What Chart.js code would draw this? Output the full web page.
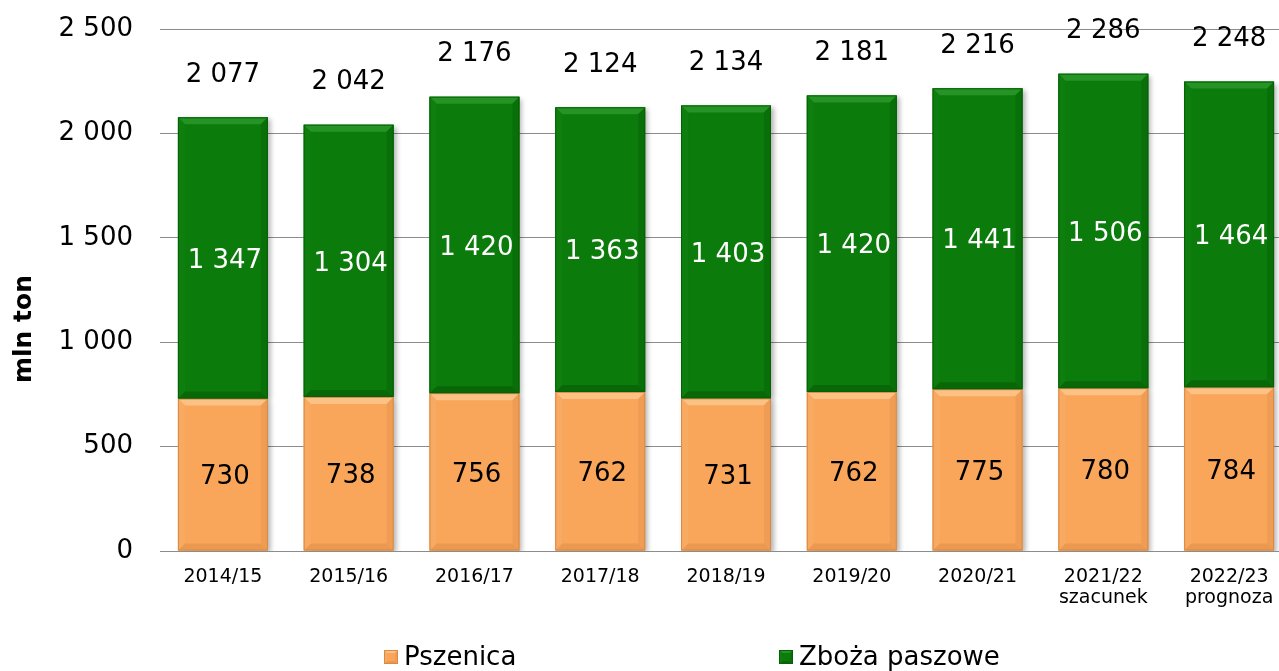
<!DOCTYPE html>
<html>
<head>
<meta charset="utf-8">
<script src="https://cdn.jsdelivr.net/npm/chart.js@4/dist/chart.umd.min.js"></script>
<style>
  html, body { margin: 0; padding: 0; background: #fff; overflow: hidden; }
  #wrap { position: relative; width: 1292px; height: 671px; }
</style>
</head>
<body>
<div id="wrap"><canvas id="c"></canvas></div>
<script>
// ---- data ----
const categories = [
  ['2014/15'], ['2015/16'], ['2016/17'], ['2017/18'], ['2018/19'],
  ['2019/20'], ['2020/21'], ['2021/22', 'szacunek'], ['2022/23', 'prognoza']
];
const pszenica = [730, 738, 756, 762, 731, 762, 775, 780, 784];
const zbozaPaszowe = [1347, 1304, 1420, 1363, 1403, 1420, 1441, 1506, 1464];
const totals = [2077, 2042, 2176, 2124, 2134, 2181, 2216, 2286, 2248];
const seriesNames = ['Pszenica', 'Zboża paszowe'];
const yTicks = [0, 500, 1000, 1500, 2000, 2500];
const yTitle = 'mln ton';

const FONT = "'DejaVu Sans', Verdana, sans-serif";
const fmt = n => String(n).replace(/\B(?=(\d{3})+(?!\d))/g, ' ');

const palette = [
  { main: '#f9a65a', light: '#fcc184', dark: '#eb9850', lside: '#f8aa62', rside: '#ef9d54', border: '#d88a46' },
  { main: '#0b7b0b', light: '#259325', dark: '#086808', lside: '#0e7f0e', rside: '#097009', border: '#066006' }
];

function bevelRect(ctx, l, t, r, b, d, p, fillMain) {
  d = Math.min(d, (b - t) / 2, (r - l) / 2);
  if (fillMain) { ctx.fillStyle = p.main; ctx.fillRect(l, t, r - l, b - t); }
  ctx.fillStyle = p.light;
  ctx.beginPath(); ctx.moveTo(l, t); ctx.lineTo(r, t); ctx.lineTo(r - d, t + d); ctx.lineTo(l + d, t + d); ctx.closePath(); ctx.fill();
  ctx.fillStyle = p.dark;
  ctx.beginPath(); ctx.moveTo(l, b); ctx.lineTo(r, b); ctx.lineTo(r - d, b - d); ctx.lineTo(l + d, b - d); ctx.closePath(); ctx.fill();
  ctx.fillStyle = p.lside;
  ctx.beginPath(); ctx.moveTo(l, t); ctx.lineTo(l + d, t + d); ctx.lineTo(l + d, b - d); ctx.lineTo(l, b); ctx.closePath(); ctx.fill();
  ctx.fillStyle = p.rside;
  ctx.beginPath(); ctx.moveTo(r, t); ctx.lineTo(r - d, t + d); ctx.lineTo(r - d, b - d); ctx.lineTo(r, b); ctx.closePath(); ctx.fill();
  ctx.strokeStyle = p.border; ctx.lineWidth = 1;
  ctx.strokeRect(l + 0.5, t + 0.5, r - l - 1, b - t - 1);
}

const decoPlugin = {
  id: 'deco',
  beforeDatasetsDraw(chart) {
    const ctx = chart.ctx;
    ctx.save();
    ctx.shadowColor = 'rgba(0,0,0,0.3)';
    ctx.shadowBlur = 5;
    ctx.shadowOffsetX = 3;
    ctx.shadowOffsetY = 2;
  },
  afterDatasetsDraw(chart) {
    const ctx = chart.ctx;
    ctx.restore();
    ctx.save();
    chart.data.datasets.forEach((ds, di) => {
      const meta = chart.getDatasetMeta(di);
      meta.data.forEach(el => {
        const { x, y, base, width } = el.getProps(['x', 'y', 'base', 'width'], true);
        const l = x - width / 2, r = x + width / 2;
        const t = Math.min(y, base), b = Math.max(y, base);
        bevelRect(ctx, l, t, r, b, 7, palette[di], false);
      });
    });
    ctx.font = '26px ' + FONT;
    ctx.textAlign = 'center';
    ctx.textBaseline = 'middle';
    chart.data.datasets.forEach((ds, di) => {
      const meta = chart.getDatasetMeta(di);
      ctx.fillStyle = di === 0 ? '#000' : '#fff';
      meta.data.forEach((el, i) => {
        const { x, y, base } = el.getProps(['x', 'y', 'base'], true);
        ctx.fillText(fmt(ds.data[i]), x + 2, (y + base) / 2 + 3);
      });
    });
    const ys = chart.scales.y;
    const meta0 = chart.getDatasetMeta(0);
    ctx.fillStyle = '#000';
    totals.forEach((tv, i) => {
      const x = meta0.data[i].x;
      ctx.fillText(fmt(tv), x, ys.getPixelForValue(tv) - 42);
    });
    ctx.restore();
  },
  afterDraw(chart) {
    const ctx = chart.ctx;
    ctx.save();
    ctx.font = 'bold 25px ' + FONT;
    ctx.fillStyle = '#000';
    ctx.textAlign = 'center';
    ctx.textBaseline = 'middle';
    ctx.translate(24, 329);
    ctx.rotate(-Math.PI / 2);
    ctx.fillText(yTitle, 0, 0);
    ctx.restore();
    ctx.save();
    const items = [{ x: 384, p: palette[0] }, { x: 779, p: palette[1] }];
    ctx.font = '26px ' + FONT;
    ctx.textBaseline = 'middle';
    ctx.textAlign = 'left';
    items.forEach((it, i) => {
      bevelRect(ctx, it.x, 650, it.x + 14, 664, 3, it.p, true);
      ctx.fillStyle = '#000';
      ctx.fillText(seriesNames[i], it.x + 20, 658);
    });
    ctx.restore();
  }
};

new Chart(document.getElementById('c'), {
  type: 'bar',
  data: {
    labels: categories,
    datasets: [
      { label: seriesNames[0], data: pszenica, backgroundColor: palette[0].main, borderWidth: 0 },
      { label: seriesNames[1], data: zbozaPaszowe, backgroundColor: palette[1].main, borderWidth: 0 }
    ]
  },
  options: {
    responsive: true,
    maintainAspectRatio: false,
    animation: false,
    devicePixelRatio: 1,
    layout: { padding: { top: 29, left: 0, right: 0, bottom: 0 } },
    datasets: { bar: { categoryPercentage: 1, barPercentage: 0.715 } },
    plugins: { legend: { display: false }, tooltip: { enabled: false } },
    scales: {
      x: {
        stacked: true,
        grid: { display: false, drawTicks: false },
        border: { display: false },
        ticks: { color: '#000', font: { family: FONT, size: 19, lineHeight: 1.1 }, padding: 16, maxRotation: 0, autoSkip: false },
        afterFit(scale) { scale.height = 120; scale.paddingLeft = 0; scale.paddingRight = 0; }
      },
      y: {
        stacked: true,
        min: 0, max: 2500,
        afterBuildTicks(scale) { scale.ticks = yTicks.map(v => ({ value: v })); },
        grid: { color: '#8c8c8c', lineWidth: 1, drawTicks: false },
        border: { display: false },
        ticks: { color: '#000', font: { family: FONT, size: 26 }, padding: 27, callback: v => fmt(v) },
        afterFit(scale) { scale.width = 160; scale.paddingTop = 0; scale.paddingBottom = 0; }
      }
    }
  },
  plugins: [decoPlugin]
});
</script>
</body>
</html>
